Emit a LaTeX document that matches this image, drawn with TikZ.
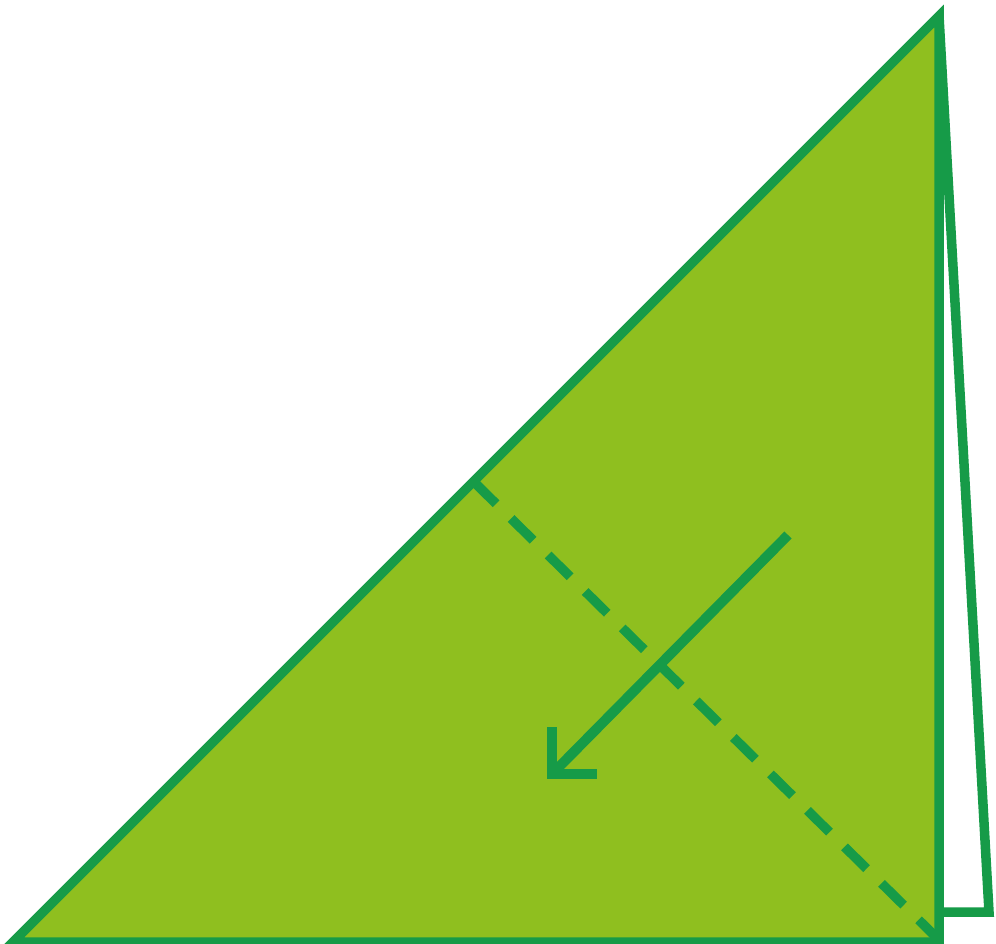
\documentclass[tikz,border=0pt]{standalone}
\definecolor{leaf}{RGB}{143,191,31}
\definecolor{edge}{RGB}{22,155,72}
\tikzset{
  paper/.style={draw=edge, line width=9.5pt, line join=miter},
  foldline/.style={draw=edge, line width=9.5pt, dash pattern=on 31pt off 21pt},
  foldarrow/.style={draw=edge, line width=10pt}
}
\begin{document}
\begin{tikzpicture}[x=1pt,y=-1pt]
\useasboundingbox (0,0) rectangle (996,944);
\fill[white] (0,0) rectangle (996,944);
% thin back flap
\coordinate (A) at (939,16);
\coordinate (F1) at (989,912);
\coordinate (F2) at (939,912);
\draw[paper, fill=white] (A) -- (F1) -- (F2) -- cycle;
% main triangle
\coordinate (L) at (13,942);
\coordinate (B) at (939,942);
\draw[paper, fill=leaf] (L) -- (A) -- (B) -- cycle;
% dashed fold line
\coordinate (D1) at (474,482);
\coordinate (D2) at (936,937);
\draw[foldline] (D1) -- (D2);
% arrow
\coordinate (S) at (788,535);
\coordinate (T) at (552,774);
\coordinate (H1) at (552,727);
\coordinate (H2) at (597,774);
\draw[foldarrow] (S) -- (T);
\draw[foldarrow, line join=miter] (H1) -- (T) -- (H2);
\end{tikzpicture}
\end{document}
